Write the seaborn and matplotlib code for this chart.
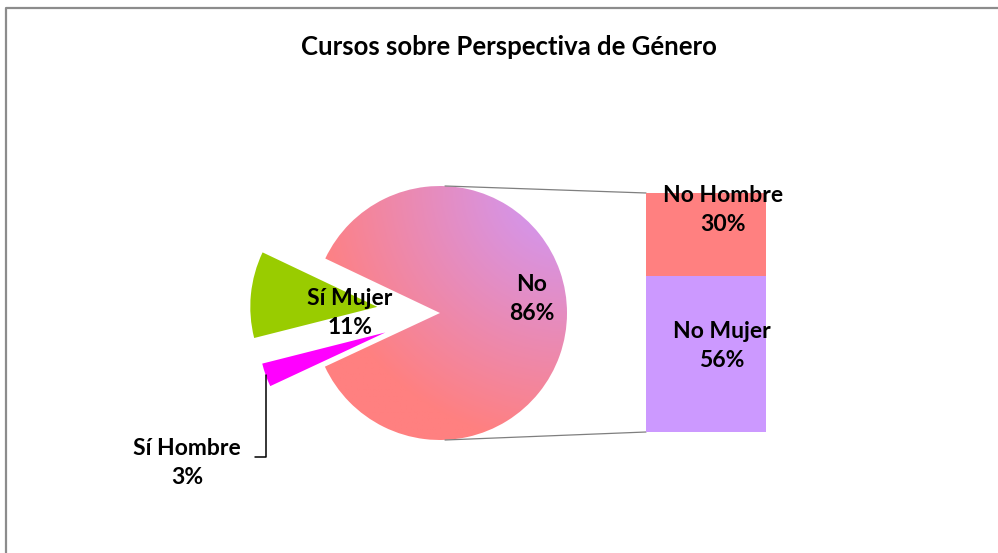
import numpy as np
import pandas as pd
import seaborn as sns
import matplotlib.pyplot as plt
from matplotlib.colors import LinearSegmentedColormap

# data
pie_labels = ['No', 'Sí Mujer', 'Sí Hombre']
pie_values = [86, 11, 3]
bar_labels = ['No Hombre', 'No Mujer']
bar_values = [30, 56]
title = 'Cursos sobre Perspectiva de Género'

salmon = '#FF8080'
lavender = '#CC99FF'
green = '#99CC00'
magenta = '#FF00FF'

sns.set_style('white')
plt.rcParams['font.family'] = ['Lato', 'DejaVu Sans']
plt.rcParams['text.color'] = 'black'

W, H = 998, 553
fig = plt.figure(figsize=(W / 100, H / 100), dpi=100)
ax = fig.add_axes([0, 0, 1, 1])


def py(y):
    # pixel row (from top) -> data y
    return H - y


cx, cy, r = 440, py(313), 127
# explode is in data units here (pixels)
wedges, _ = ax.pie(pie_values, colors=[salmon, green, magenta], explode=[0, 63, 58],
                   startangle=205, radius=r, center=(cx, cy), frame=True,
                   wedgeprops={'linewidth': 0})

# gradient fill for the "No" slice (from the upper right corner)
xs = np.linspace(cx - r, cx + r, 300)
ys = np.linspace(cy - r, cy + r, 300)
gx, gy = np.meshgrid(xs, ys)
d = np.hypot(gx - 567, gy - py(186))
t = np.clip(1 - d / 260, 0, 1)
cmap = LinearSegmentedColormap.from_list('nogr', [salmon, lavender])
wedges[0].set_facecolor('none')
img = ax.imshow(t, extent=[cx - r, cx + r, cy - r, cy + r], origin='lower',
                cmap=cmap, vmin=0, vmax=1, interpolation='bilinear', zorder=1)
img.set_clip_path(wedges[0])

# connector lines to the bar
bx0, btop, bbot = 646, 193, 432
ax.plot([cx + 5, bx0], [cy + r, py(btop)], color='#7f7f7f', lw=0.9, zorder=3)
ax.plot([cx + 5, bx0], [cy - r, py(bbot)], color='#7f7f7f', lw=0.9, zorder=3)

# leader line for Sí Hombre
wm = wedges[2]
mid = np.deg2rad((wm.theta1 + wm.theta2) / 2)
lx = wm.center[0] + wm.r * np.cos(mid)
ly = wm.center[1] + wm.r * np.sin(mid)
ax.plot([lx, lx, lx - 11], [ly, py(457), py(457)], color='black', lw=1.1, zorder=3)

# chart border
ax.plot([6, 6, W + 5], [-5, py(8), py(8)], color='#8c8c8c', lw=1.6, zorder=3)

lab = dict(fontsize=16.5, fontweight='bold', ha='center', va='center',
           multialignment='center', linespacing=1.5, zorder=4)
ax.text(350, py(313), f'{pie_labels[1]}\n{pie_values[1]}%', **lab)
ax.text(532, py(299), f'{pie_labels[0]}\n{pie_values[0]}%', **lab)
ax.text(187, py(463), f'{pie_labels[2]}\n{pie_values[2]}%', **lab)

ax.text(509, py(47), title, fontsize=18.5, fontweight='bold', ha='center', va='center')

ax.set_xlim(0, W)
ax.set_ylim(0, H)
ax.set_aspect('auto')
ax.axis('off')

# stacked bar for the breakdown of "No"
bax = fig.add_axes([bx0 / W, py(bbot) / H, 120 / W, (bbot - btop) / H])
df = pd.DataFrame({'grp': ['No'], 'total': [sum(bar_values)], 'mujer': [bar_values[1]]})
sns.barplot(data=df, x='grp', y='total', color=salmon, saturation=1, width=1, linewidth=0, ax=bax)
sns.barplot(data=df, x='grp', y='mujer', color=lavender, saturation=1, width=1, linewidth=0, ax=bax)
bax.set_xlim(-0.5, 0.5)
bax.set_ylim(0, sum(bar_values))
bax.axis('off')

# bar labels drawn on the figure so they sit above the bar axes
fig.text(723 / W, py(210) / H, f'{bar_labels[0]}\n{bar_values[0]}%', **lab)
fig.text(722 / W, py(346) / H, f'{bar_labels[1]}\n{bar_values[1]}%', **lab)

fig.savefig('out.png', dpi=100)
